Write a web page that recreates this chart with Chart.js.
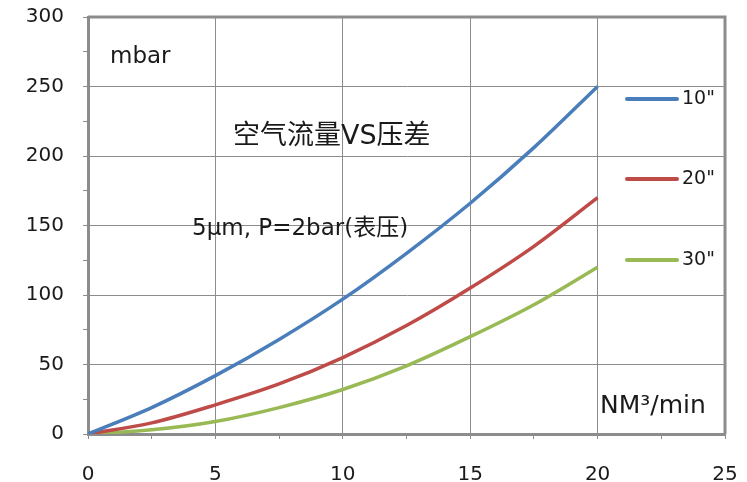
<!DOCTYPE html>
<html lang="zh">
<head>
    <meta charset="UTF-8">
    <title>空气流量VS压差</title>
    <script src="https://cdn.jsdelivr.net/npm/chart.js"></script>
    <style>
        html, body {
            margin: 0;
            padding: 0;
            background: #fff;
        }
        #chart-container {
            width: 747px;
            height: 482px;
        }
    </style>
</head>
<body>
    <div id="chart-container">
        <canvas id="flowChart"></canvas>
    </div>

    <script>
        // flow in NM3/min, pressure drop in mbar
        const flow = [0, 2.5, 5, 7.5, 10, 12.5, 15, 17.5, 20];
        const drop10 = [0, 19, 42, 68, 97, 130, 166, 206, 250];
        const drop20 = [0, 8, 21, 36, 55, 78, 105, 135, 170];
        const drop30 = [0, 3, 9, 19, 32, 49, 70, 93, 120];
        const seriesNames = ['10"', '20"', '30"'];
        const seriesColors = ["#4a7ebb", "#be4b48", "#98b954"];

        const xMax = 25, xStep = 5;
        const yMax = 300, yStep = 50;

        const textFont = "'DejaVu Sans', 'Noto Sans CJK SC', sans-serif";
        const axisGray = "#8c8c8c";

        function toPoints(ys) {
            return flow.map((x, i) => ({ x: x, y: ys[i] }));
        }

        // legend drawn inside the plot, right of x=20
        const legendPlugin = {
            id: "sideLegend",
            afterDraw(chart) {
                const ctx = chart.ctx;
                const rows = [99, 179, 260];
                ctx.save();
                chart.data.datasets.forEach((ds, i) => {
                    ctx.strokeStyle = ds.borderColor;
                    ctx.lineWidth = 4;
                    ctx.lineCap = "round";
                    ctx.beginPath();
                    ctx.moveTo(627, rows[i]);
                    ctx.lineTo(677, rows[i]);
                    ctx.stroke();
                    ctx.fillStyle = "#1a1a1a";
                    ctx.font = "19px " + textFont;
                    ctx.textBaseline = "middle";
                    ctx.textAlign = "left";
                    ctx.fillText(ds.label, 682, rows[i]);
                });
                ctx.restore();
            }
        };

        // free text boxes and the thick frame
        const notesPlugin = {
            id: "notes",
            beforeDatasetsDraw(chart) {
                const a = chart.chartArea;
                const ctx = chart.ctx;
                ctx.save();
                ctx.strokeStyle = axisGray;
                ctx.lineWidth = 3;
                ctx.beginPath();
                ctx.moveTo(a.left, a.top);
                ctx.lineTo(a.right, a.top);
                ctx.lineTo(a.right, a.bottom);
                ctx.stroke();
                ctx.restore();
            },
            afterDraw(chart) {
                const ctx = chart.ctx;
                ctx.save();
                ctx.fillStyle = "#1a1a1a";
                ctx.textBaseline = "middle";
                ctx.textAlign = "left";
                ctx.font = "23px " + textFont;
                ctx.fillText("mbar", 110, 57);
                ctx.font = "27px " + textFont;
                ctx.fillText("空气流量VS压差", 233, 137);
                ctx.font = "23px " + textFont;
                ctx.fillText("5μm, P=2bar(表压)", 192, 229);
                ctx.font = "25px " + textFont;
                ctx.fillText("NM³/min", 600, 406);
                ctx.restore();
            }
        };

        const ctx = document.getElementById("flowChart").getContext("2d");
        new Chart(ctx, {
            type: "line",
            data: {
                datasets: [drop10, drop20, drop30].map((ys, i) => ({
                    label: seriesNames[i],
                    data: toPoints(ys),
                    borderColor: seriesColors[i],
                    backgroundColor: seriesColors[i],
                    borderWidth: 3.5,
                    pointRadius: 0,
                    tension: 0.4,
                    cubicInterpolationMode: "monotone",
                    fill: false
                }))
            },
            options: {
                responsive: true,
                maintainAspectRatio: false,
                animation: false,
                layout: { padding: { top: 17, right: 22, left: 0, bottom: 0 } },
                plugins: {
                    legend: { display: false },
                    tooltip: { enabled: false }
                },
                scales: {
                    x: {
                        type: "linear",
                        min: 0,
                        max: xMax,
                        afterFit: s => {
                            s.height = 48;
                            s.paddingLeft = 0;
                            s.paddingRight = 0;
                        },
                        ticks: {
                            stepSize: xStep / 2,
                            autoSkip: false,
                            maxRotation: 0,
                            padding: 24,
                            color: "#1a1a1a",
                            font: { family: textFont, size: 20 },
                            callback: v => (v % xStep === 0 ? v : "")
                        },
                        grid: {
                            color: c => (c.tick && c.tick.value % xStep === 0 ? axisGray : "rgba(0,0,0,0)"),
                            tickColor: axisGray,
                            tickLength: 5,
                            lineWidth: 1
                        },
                        border: { color: axisGray, width: 3 }
                    },
                    y: {
                        min: 0,
                        max: yMax,
                        afterFit: s => {
                            s.width = 88;
                            s.paddingTop = 0;
                            s.paddingBottom = 0;
                        },
                        ticks: {
                            stepSize: yStep / 2,
                            autoSkip: false,
                            padding: 19,
                            color: "#1a1a1a",
                            font: { family: textFont, size: 20 },
                            callback: v => (v % yStep === 0 ? v : "")
                        },
                        grid: {
                            color: c => (c.tick && c.tick.value % yStep === 0 ? axisGray : "rgba(0,0,0,0)"),
                            tickColor: axisGray,
                            tickLength: 5,
                            lineWidth: 1
                        },
                        border: { color: axisGray, width: 3 }
                    }
                }
            },
            plugins: [notesPlugin, legendPlugin]
        });
    </script>
</body>
</html>
